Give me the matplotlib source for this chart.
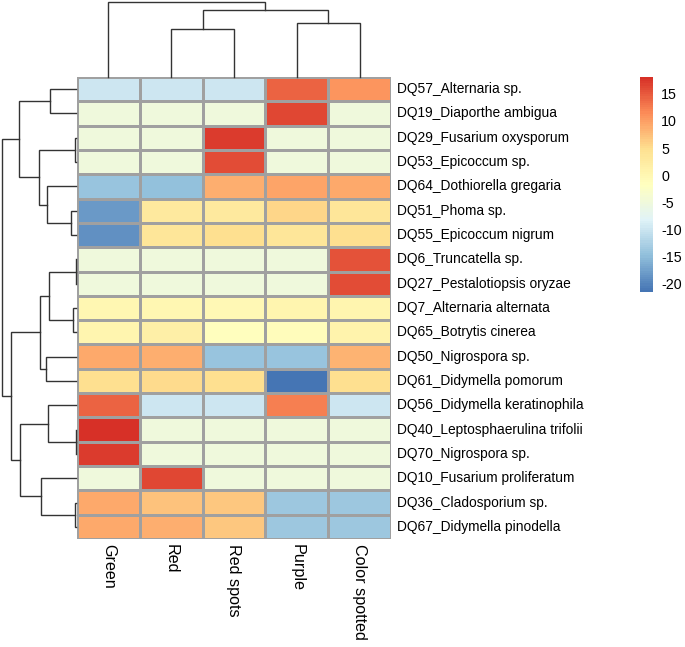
import matplotlib
matplotlib.use("Agg")
import matplotlib.pyplot as plt
import numpy as np
from matplotlib.colors import LinearSegmentedColormap, Normalize

plt.rcParams['font.family'] = ['Liberation Sans', 'DejaVu Sans']
plt.rcParams['axes.unicode_minus'] = False

# ---------------- data ----------------
columns = ["Green", "Red", "Red spots", "Purple", "Color spotted"]
rows = [
    "DQ57_Alternaria sp.",
    "DQ19_Diaporthe ambigua",
    "DQ29_Fusarium oxysporum",
    "DQ53_Epicoccum sp.",
    "DQ64_Dothiorella gregaria",
    "DQ51_Phoma sp.",
    "DQ55_Epicoccum nigrum",
    "DQ6_Truncatella sp.",
    "DQ27_Pestalotiopsis oryzae",
    "DQ7_Alternaria alternata",
    "DQ65_Botrytis cinerea",
    "DQ50_Nigrospora sp.",
    "DQ61_Didymella pomorum",
    "DQ56_Didymella keratinophila",
    "DQ40_Leptosphaerulina trifolii",
    "DQ70_Nigrospora sp.",
    "DQ10_Fusarium proliferatum",
    "DQ36_Cladosporium sp.",
    "DQ67_Didymella pinodella",
]
values = [
    [-10.0, -10.0, -10.0, 14.5, 10.8],
    [-5.0, -5.0, -5.0, 16.2, -5.0],
    [-5.0, -5.0, 17.2, -5.0, -5.0],
    [-5.0, -5.0, 15.9, -5.0, -5.0],
    [-14.0, -14.6, 8.8, 9.6, 9.0],
    [-18.1, 3.0, 3.0, 5.7, 3.6],
    [-19.1, 3.6, 5.0, 3.6, 5.0],
    [-5.0, -5.0, -5.0, -5.0, 15.6],
    [-5.0, -5.0, -5.0, -5.0, 15.8],
    [0.0, 0.0, -0.5, 0.5, 0.5],
    [0.5, 1.5, -1.5, -1.2, 1.0],
    [9.2, 8.6, -14.0, -14.0, 8.4],
    [4.8, 5.2, 4.8, -21.5, 5.0],
    [14.5, -10.0, -10.0, 12.3, -10.0],
    [18.1, -5.0, -5.0, -5.0, -5.0],
    [17.0, -5.0, -5.0, -5.0, -5.0],
    [-5.0, 16.2, -5.0, -5.0, -5.0],
    [9.0, 7.2, 6.8, -13.7, -13.7],
    [9.2, 8.7, 6.8, -13.7, -13.7],
]
# linkage in display order: (child_a, child_b, height); new cluster ids start at n
row_linkage = [
    (0, 1, 26.0), (2, 3, 1.0), (5, 6, 4.7), (4, 21, 29.3), (20, 22, 37.0),
    (19, 23, 56.7), (7, 8, 0.5), (9, 10, 3.3), (25, 26, 27.0), (11, 12, 30.3),
    (27, 28, 36.0), (14, 15, 0.5), (13, 30, 28.3), (17, 18, 1.0), (16, 32, 35.3),
    (31, 33, 56.0), (29, 34, 65.0), (24, 35, 73.7),
]
col_linkage = [(1, 2, 47.7), (3, 4, 53.2), (5, 6, 66.7), (0, 7, 74.7)]
cbar_ticks = [-20, -15, -10, -5, 0, 5, 10, 15]

# ---------------- figure ----------------
W, H = 685, 647
fig = plt.figure(figsize=(W / 100, H / 100), dpi=100)

def px_axes(x0, y0, x1, y1):
    return fig.add_axes([x0 / W, 1 - y1 / H, (x1 - x0) / W, (y1 - y0) / H])

data = np.array(values)
nr, nc = data.shape
pal = ["#4575B4", "#91BFDB", "#E0F3F8", "#FFFFBF", "#FEE090", "#FC8D59", "#D73027"]
cmap = LinearSegmentedColormap.from_list("rdylbu_r", pal, N=100)
norm = Normalize(vmin=data.min(), vmax=data.max())

hx0, hy0, hx1, hy1 = 77, 77, 391, 539
ax = px_axes(hx0, hy0, hx1, hy1)
mesh = ax.pcolormesh(np.arange(nc + 1), np.arange(nr + 1), data, cmap=cmap, norm=norm,
                     edgecolors="#A0A0A0", linewidth=0.9)
ax.set_xlim(0, nc)
ax.set_ylim(nr, 0)
ax.set_xticks([])
ax.set_yticks([])
for s in ax.spines.values():
    s.set_visible(False)

for i, r in enumerate(rows):
    ax.text(nc + 6 / 62.8, i + 0.5, r, ha="left", va="center", fontsize=9.9,
            color="black")
for j, c in enumerate(columns):
    ax.text(j + 0.5, nr + 5 / 24.3, c, ha="center", va="top", rotation=-90,
            fontsize=11.6, color="black")

def draw_dendro(dax, linkage, n, orient):
    pos = {i: i + 0.5 for i in range(n)}
    hgt = {i: 0.0 for i in range(n)}
    for k, (a, b, h) in enumerate(linkage):
        xa, xb = pos[a], pos[b]
        ha, hb = hgt[a], hgt[b]
        if orient == "top":
            dax.plot([xa, xa, xb, xb], [ha, h, h, hb], color="#333333", lw=1.0,
                     clip_on=False, solid_joinstyle="miter")
        else:
            dax.plot([ha, h, h, hb], [xa, xa, xb, xb], color="#333333", lw=1.0,
                     clip_on=False, solid_joinstyle="miter")
        pos[n + k] = (xa + xb) / 2
        hgt[n + k] = h
    dax.axis("off")

cax_d = px_axes(hx0, 0, hx1, 76.5)
draw_dendro(cax_d, col_linkage, nc, "top")
cax_d.set_xlim(0, nc)
cax_d.set_ylim(0, 76.5)

rax_d = px_axes(0, hy0, 76, hy1)
draw_dendro(rax_d, row_linkage, nr, "left")
rax_d.set_ylim(nr, 0)
rax_d.set_xlim(76, 0)

# colorbar
cbx = px_axes(640, 77, 653, 292)
cb = fig.colorbar(mesh, cax=cbx)
cb.set_ticks(cbar_ticks)
cb.ax.tick_params(length=0, pad=6, labelsize=10.3)
cb.outline.set_visible(False)

fig.savefig("out.png", dpi=100)
